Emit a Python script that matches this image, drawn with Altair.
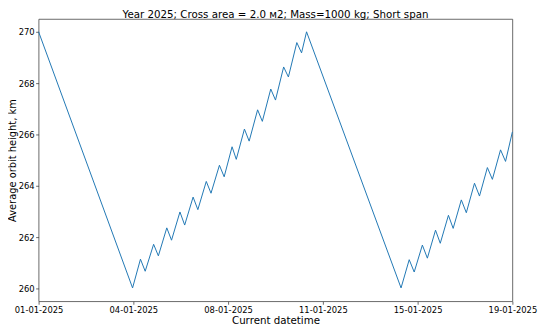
import altair as alt
import pandas as pd

# Vertices of the orbit-height curve (days since 2025-01-01 00:00, km)
t_days = [0.00, 3.57,
          3.87, 4.05, 4.37, 4.55, 4.87, 5.05, 5.37, 5.55, 5.87, 6.05, 6.37, 6.55,
          6.87, 7.05, 7.35, 7.51, 7.82, 8.00, 8.32, 8.50, 8.82, 9.00, 9.31, 9.49,
          9.81, 9.99, 10.18,
          13.77,
          14.08, 14.27, 14.58, 14.77, 15.08, 15.26, 15.57, 15.75, 16.06, 16.25,
          16.56, 16.75, 17.05, 17.24, 17.55, 17.74, 18.00]
height_km = [270.00, 260.02,
             261.14, 260.67, 261.72, 261.27, 262.36, 261.88, 262.98, 262.47, 263.56, 263.07, 264.17, 263.71,
             264.80, 264.35, 265.52, 265.03, 266.21, 265.74, 266.96, 266.51, 267.77, 267.34, 268.63, 268.24,
             269.58, 269.18, 270.00,
             260.02,
             261.12, 260.64, 261.69, 261.18, 262.27, 261.76, 262.85, 262.34, 263.45, 262.95,
             264.10, 263.60, 264.71, 264.25, 265.40, 264.95, 266.10]

y_ticks = [260, 262, 264, 266, 268, 270]
x_ticks = [alt.DateTime(year=2025, month=1, date=1, hours=0, minutes=0),
           alt.DateTime(year=2025, month=1, date=4, hours=14, minutes=24),
           alt.DateTime(year=2025, month=1, date=8, hours=4, minutes=48),
           alt.DateTime(year=2025, month=1, date=11, hours=19, minutes=12),
           alt.DateTime(year=2025, month=1, date=15, hours=9, minutes=36),
           alt.DateTime(year=2025, month=1, date=19, hours=0, minutes=0)]
title_text = "Year 2025; Cross area = 2.0 м2; Mass=1000 kg; Short span"

base = pd.Timestamp("2025-01-01")
df = pd.DataFrame({
    "time": base + pd.to_timedelta(t_days, unit="D"),
    "height": height_km,
})

FONT = "DejaVu Sans"

chart = alt.Chart(df).mark_line(color="#1f77b4", strokeWidth=1.0).encode(
    x=alt.X("time:T",
            scale=alt.Scale(domain=[x_ticks[0], x_ticks[-1]]),
            axis=alt.Axis(values=x_ticks, format="%d-%m-%Y", title="Current datetime",
                          labelPadding=1.5, titlePadding=2, labelFlush=False,
                          labelOverlap=False)),
    y=alt.Y("height:Q",
            scale=alt.Scale(domain=[259.5, 270.5], nice=False, zero=False),
            axis=alt.Axis(values=y_ticks, title="Average orbit height, km",
                          labelPadding=1.5, titlePadding=1, titleFontSize=10)),
).properties(
    width=480, height=286,
    title=alt.Title(title_text, fontSize=10.4, font=FONT, fontWeight="normal",
                    color="black", anchor="middle", offset=0, dy=1),
    autosize=alt.AutoSizeParams(type="none"),
    padding={"left": 31, "top": 9, "right": 30, "bottom": 28},
).configure_view(
    stroke="#444444", strokeWidth=0.8
).configure_axis(
    domain=False, grid=False,
    tickColor="#444444", tickWidth=0.8, tickSize=3,
    labelFont=FONT, labelFontSize=8.5, labelColor="black",
    titleFont=FONT, titleFontSize=10.4, titleFontWeight="normal", titleColor="black",
)

chart.save("out.html", embed_options={"renderer": "svg", "actions": False})
